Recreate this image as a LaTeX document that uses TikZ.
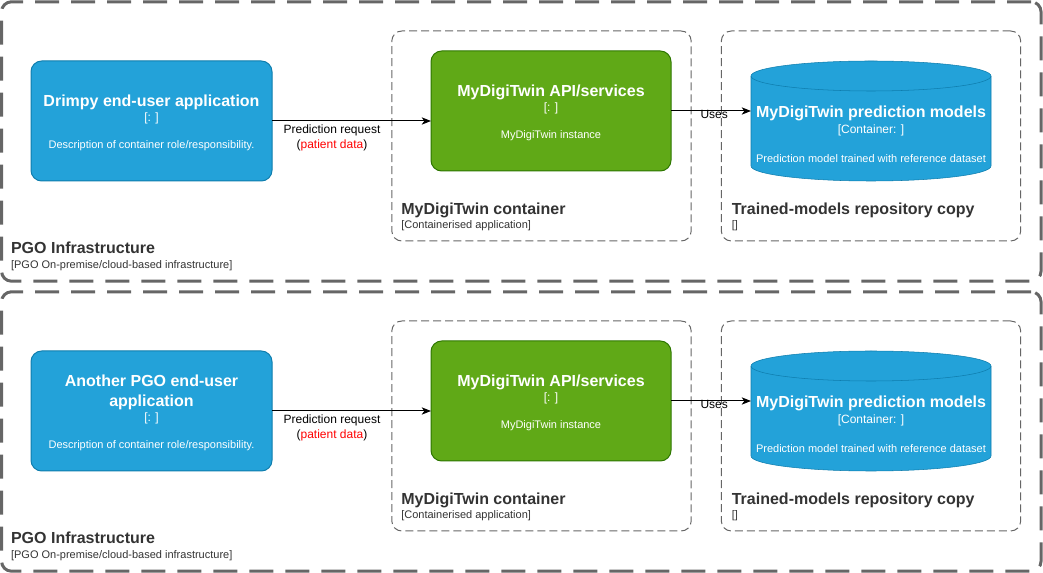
\documentclass[tikz,border=0pt]{standalone}
\usepackage{fontspec}
\setmainfont{Liberation Sans}
\usetikzlibrary{arrows.meta}
\usetikzlibrary{backgrounds}

\definecolor{appblue}{HTML}{23A2D9}
\definecolor{appblueline}{HTML}{0E7DAD}
\definecolor{apigreen}{HTML}{60A917}
\definecolor{apigreenline}{HTML}{2D7600}
\definecolor{bndgray}{HTML}{666666}
\definecolor{lbldark}{HTML}{333333}
\definecolor{datared}{HTML}{FF0000}

\newcommand{\ttlfont}{\fontsize{12}{14.4}\selectfont\bfseries}
\newcommand{\techfont}{\fontsize{9}{11}\selectfont}
\newcommand{\descfont}{\fontsize{8.25}{10}\selectfont}
\newcommand{\topstrut}{\rule{0pt}{11.8pt}}

\begin{document}
\begin{tikzpicture}[
		x=0.75pt, y=-0.75pt,
		line width=0.75pt,
		pgobox/.style={draw=bndgray, line width=2.25pt, dash pattern=on 18pt off 9pt, rounded corners=7.5pt, minimum width=779.6pt, minimum height=209.6pt, inner sep=0pt, outer sep=0pt},
		ctrbox/.style={draw=bndgray, dash pattern=on 6pt off 3pt, rounded corners=7.5pt, minimum width=224.5pt, minimum height=157.5pt, inner sep=0pt, outer sep=0pt},
		appbox/.style={draw=appblueline, fill=appblue, rounded corners=8pt, minimum width=180.75pt, minimum height=90pt, inner sep=0pt, outer sep=0pt, text=white, align=center, font=\techfont},
		apibox/.style={draw=apigreenline, fill=apigreen, rounded corners=8pt, minimum width=180pt, minimum height=90pt, inner sep=0pt, outer sep=0pt, text=white, align=center, font=\techfont},
		dbtext/.style={minimum width=180pt, inner sep=0pt, outer sep=0pt, text=white, align=center, font=\techfont},
		dbshape/.style={draw=appblueline, fill=appblue},
		bndtitle/.style={anchor=west, inner sep=0pt, text=lbldark, font=\ttlfont},
		bndsub/.style={anchor=west, inner sep=0pt, text=lbldark, font=\descfont},
		edgelabel/.style={inner sep=0pt, align=center, font=\techfont},
		arrow/.style={draw=black, -{Stealth[length=7pt, width=5.5pt, inset=2pt]}},
	]
	\useasboundingbox (0,0) rectangle (1043,573);

	% first PGO site
	\node (pgo1) [pgobox] at (521.3,141.5) {};
	\node (pgo1title) [bndtitle] at ([shift={(9,-33)}]pgo1.south west) {PGO Infrastructure};
	\node (pgo1sub) [bndsub] at ([shift={(9,-16)}]pgo1.south west) {[PGO On-premise/cloud-based infrastructure]};

	\node (app1) [appbox] at (151.5,121) {\topstrut{\ttlfont Drimpy end-user application}\\[0.6pt]{[: ]}\\[9.2pt]{\descfont Description of container role/responsibility.}};

	\node (cont1) [ctrbox] at (541.5,136) {};
	\node (api1) [apibox] at (551,111) {\topstrut{\ttlfont MyDigiTwin API/services}\\[0.6pt]{[: ]}\\[9.2pt]{\descfont MyDigiTwin instance}};
	\node (cont1title) [bndtitle] at ([shift={(9,-31)}]cont1.south west) {MyDigiTwin container};
	\node (cont1sub) [bndsub] at ([shift={(9,-15)}]cont1.south west) {[Containerised application]};

	\node (repo1) [ctrbox] at (871,136) {};
	\node (models1) [dbtext] at (871,134) {{\ttlfont MyDigiTwin prediction models}\\[1.5pt]{[Container: ]}\\[10.5pt]{\descfont Prediction model trained with reference dataset}};
	\node (repo1title) [bndtitle] at ([shift={(10,-31)}]repo1.south west) {Trained-models repository copy};
	\node (repo1sub) [bndsub] at ([shift={(10,-15)}]repo1.south west) {[]};

	\draw[arrow] (app1.east) -- (app1.east -| api1.west);
	\node (req1) [edgelabel] at ([shift={(60,17)}]app1.east) {Prediction request\\(\textcolor{datared}{patient data})};
	\draw[arrow] (api1.east) -- (api1.east -| models1.west) node (uses1) [edgelabel, pos=0.54, yshift=-2.25pt] {Uses};

	% second PGO site
	\node (pgo2) [pgobox] at (521.3,431.5) {};
	\node (pgo2title) [bndtitle] at ([shift={(9,-33)}]pgo2.south west) {PGO Infrastructure};
	\node (pgo2sub) [bndsub] at ([shift={(9,-16)}]pgo2.south west) {[PGO On-premise/cloud-based infrastructure]};

	\node (app2) [appbox] at (151.5,411) {\topstrut{\ttlfont Another PGO end-user}\\[3.4pt]{\ttlfont application}\\[0.6pt]{[: ]}\\[9.2pt]{\descfont Description of container role/responsibility.}};

	\node (cont2) [ctrbox] at (541.5,426) {};
	\node (api2) [apibox] at (551,401) {\topstrut{\ttlfont MyDigiTwin API/services}\\[0.6pt]{[: ]}\\[9.2pt]{\descfont MyDigiTwin instance}};
	\node (cont2title) [bndtitle] at ([shift={(9,-31)}]cont2.south west) {MyDigiTwin container};
	\node (cont2sub) [bndsub] at ([shift={(9,-15)}]cont2.south west) {[Containerised application]};

	\node (repo2) [ctrbox] at (871,426) {};
	\node (models2) [dbtext] at (871,424) {{\ttlfont MyDigiTwin prediction models}\\[1.5pt]{[Container: ]}\\[10.5pt]{\descfont Prediction model trained with reference dataset}};
	\node (repo2title) [bndtitle] at ([shift={(10,-31)}]repo2.south west) {Trained-models repository copy};
	\node (repo2sub) [bndsub] at ([shift={(10,-15)}]repo2.south west) {[]};

	\draw[arrow] (app2.east) -- (app2.east -| api2.west);
	\node (req2) [edgelabel] at ([shift={(60,17)}]app2.east) {Prediction request\\(\textcolor{datared}{patient data})};
	\draw[arrow] (api2.east) -- (api2.east -| models2.west) node (uses2) [edgelabel, pos=0.54, yshift=-2.25pt] {Uses};

	% database cylinders behind the model texts
	\begin{scope}[on background layer]
		\draw[dbshape] ([shift={(-120,-58)}]models1.center) -- ++(0,90)
			arc[start angle=180, end angle=360, x radius=90pt, y radius=11.25pt] -- ++(0,-90)
			arc[start angle=0, end angle=180, x radius=90pt, y radius=11.25pt] -- cycle;
		\draw[dbshape, fill=none] ([shift={(-120,-58)}]models1.center)
			arc[start angle=180, end angle=360, x radius=90pt, y radius=11.25pt];
		\draw[dbshape] ([shift={(-120,-58)}]models2.center) -- ++(0,90)
			arc[start angle=180, end angle=360, x radius=90pt, y radius=11.25pt] -- ++(0,-90)
			arc[start angle=0, end angle=180, x radius=90pt, y radius=11.25pt] -- cycle;
		\draw[dbshape, fill=none] ([shift={(-120,-58)}]models2.center)
			arc[start angle=180, end angle=360, x radius=90pt, y radius=11.25pt];
	\end{scope}
\end{tikzpicture}
\end{document}
